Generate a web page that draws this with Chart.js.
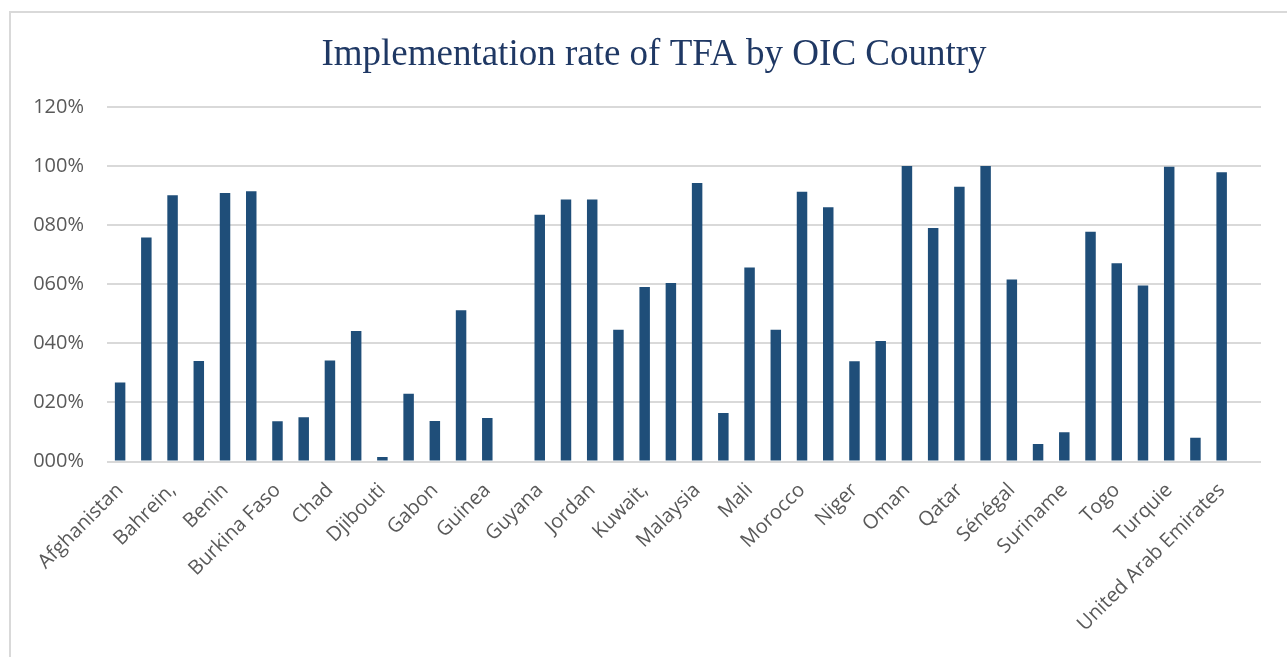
<!DOCTYPE html>
<html>
<head>
<meta charset="utf-8">
<script src="https://cdn.jsdelivr.net/npm/chart.js@4"></script>
<style>
  html, body { margin: 0; padding: 0; background: #fff; overflow: hidden; }
  #wrap { position: relative; width: 1287px; height: 657px; }
  #frame { position: absolute; left: 9px; top: 11px; width: 1300px; height: 700px;
           border: 2px solid #d9d9d9; box-sizing: border-box; }
  canvas { position: absolute; left: 0; top: 0; }
</style>
</head>
<body>
<div id="wrap">
  <div id="frame"></div>
  <canvas id="chart" width="1287" height="657"></canvas>
</div>
<script>
// categories (only every other one gets a label on the axis)
const countries = [
    'Afghanistan', 'Albania', 'Bahrein,', 'Bangladesh', 'Benin', 'Brunei',
    'Burkina Faso', 'Cameroon', 'Chad', "Côte d'Ivoire", 'Djibouti', 'Egypt',
    'Gabon', 'Gambia', 'Guinea', 'Guinea-Bissau', 'Guyana', 'Indonesia',
    'Jordan', 'Kazakhstan', 'Kuwait,', 'Kyrgyz Republic', 'Malaysia', 'Maldives',
    'Mali', 'Mauritania', 'Morocco', 'Mozambique', 'Niger', 'Nigeria',
    'Oman', 'Pakistan', 'Qatar', 'Saudi Arabia', 'Sénégal', 'Sierra Leone',
    'Suriname', 'Tajikistan', 'Togo', 'Tunisia', 'Turquie', 'Uganda',
    'United Arab Emirates', ''
];

// implementation rate, in percent
const rates = [
    26.7, 75.8, 90.1, 34.0, 90.9, 91.5,
    13.6, 15.0, 34.2, 44.2, 1.5, 22.9,
    13.7, 51.2, 14.7, 0, 83.5, 88.7,
    88.7, 44.6, 59.1, 60.4, 94.3, 16.4,
    65.7, 44.6, 91.3, 86.1, 33.9, 40.8,
    100, 79.0, 93.0, 100, 61.6, 5.9,
    9.9, 77.8, 67.1, 59.6, 99.8, 8.0,
    97.9, null
];

const yTickLabels = ['000%', '020%', '040%', '060%', '080%', '100%', '120%'];

const labelFont = { family: '"Open Sans", sans-serif', size: 20 };

const ctx = document.getElementById('chart').getContext('2d');
new Chart(ctx, {
    type: 'bar',
    data: {
        labels: countries,
        datasets: [{
            data: rates,
            backgroundColor: '#1f4e79',
            borderWidth: 0,
            barPercentage: 0.4,
            categoryPercentage: 1.0
        }]
    },
    options: {
        responsive: false,
        animation: false,
        devicePixelRatio: 1,
        // left padding + empty right axis keep the title centred on the page
        layout: { padding: { left: 21, right: 0, top: 0, bottom: 0 } },
        plugins: {
            legend: { display: false },
            tooltip: { enabled: false },
            title: {
                display: true,
                text: 'Implementation rate of TFA by OIC Country',
                color: '#1f3864',
                font: { family: '"Liberation Serif", "Times New Roman", serif', size: 37, weight: 'normal', lineHeight: 1.2 },
                padding: { top: 33, bottom: 29.6 }
            }
        },
        scales: {
            x: {
                grid: { display: false },
                border: { display: false },
                ticks: {
                    autoSkip: false,
                    maxRotation: 45,
                    minRotation: 45,
                    padding: 9,
                    color: '#595959',
                    font: labelFont,
                    callback: function(v, i) { return i % 2 === 0 ? countries[i] : ''; }
                },
                afterFit: function(s) { s.height = 195.5; }
            },
            y: {
                min: 0,
                max: 120,
                ticks: {
                    stepSize: 20,
                    padding: 23,
                    color: '#595959',
                    font: labelFont,
                    callback: function(v, i) { return yTickLabels[i]; }
                },
                grid: { color: '#d9d9d9', lineWidth: 2, drawTicks: false },
                border: { display: false },
                afterFit: function(s) { s.width = 86; }
            },
            yRight: {
                position: 'right',
                display: true,
                grid: { display: false },
                border: { display: false },
                ticks: { display: false },
                afterFit: function(s) { s.width = 26; }
            }
        }
    }
});
</script>
</body>
</html>
